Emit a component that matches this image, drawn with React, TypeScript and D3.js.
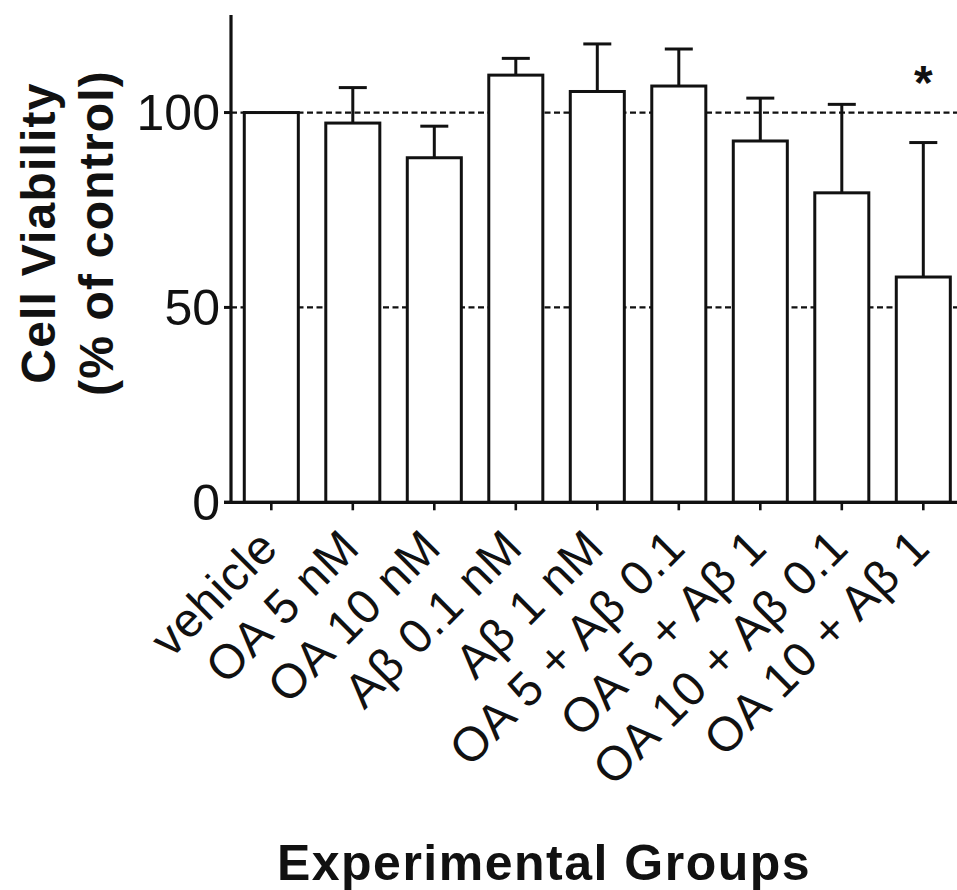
import React from "react";
import * as d3 from "d3";

const categories = [
  "vehicle",
  "OA 5 nM",
  "OA 10 nM",
  "Aβ 0.1 nM",
  "Aβ 1 nM",
  "OA 5 + Aβ 0.1",
  "OA 5 + Aβ 1",
  "OA 10 + Aβ 0.1",
  "OA 10 + Aβ 1",
];
const means = [100, 97.3, 88.4, 109.6, 105.4, 106.8, 92.7, 79.4, 57.8];
const sems = [0, 9.1, 8.1, 4.3, 12.2, 9.5, 11.0, 22.7, 34.5];
const significant = [false, false, false, false, false, false, false, false, true];
const yTicks = [0, 50, 100];
const gridValues = [50, 100];
const yTitleLines = ["Cell Viability", "(% of control)"];
const xTitle = "Experimental Groups";

const W = 957;
const H = 890;
const FONT = "'Liberation Sans', Arial, Helvetica, sans-serif";

export default function App() {
  const x0 = 231;
  const yBase = 502.3;
  const yTop = 15.1;
  const x = d3
    .scaleBand<string>()
    .domain(categories)
    .range([x0, 963.6])
    .paddingInner(0.337)
    .paddingOuter(0.163);
  const y = d3.scaleLinear().domain([0, 125]).range([yBase, yTop]);
  const bw = x.bandwidth();
  const capW = 28;

  return (
    <svg
      width={W}
      height={H}
      viewBox={`0 0 ${W} ${H}`}
      style={{ position: "absolute", left: 0, top: 0, background: "#fff" }}
    >
      <rect x={0} y={0} width={W} height={H} fill="#fff" />
      {/* dashed reference lines */}
      {gridValues.map((g) => (
        <line
          key={"g" + g}
          x1={x0}
          x2={W}
          y1={y(g)}
          y2={y(g)}
          stroke="#111"
          strokeWidth={2.3}
          strokeDasharray="6,3.5"
        />
      ))}
      {/* error bars */}
      {categories.map((c, i) => {
        if (sems[i] <= 0) return null;
        const cx = (x(c) as number) + bw / 2;
        const top = y(means[i] + sems[i]);
        return (
          <g key={"e" + i} stroke="#111" strokeWidth={3}>
            <line x1={cx} x2={cx} y1={y(means[i])} y2={top} />
            <line x1={cx - capW / 2} x2={cx + capW / 2} y1={top} y2={top} />
          </g>
        );
      })}
      {/* bars */}
      {categories.map((c, i) => (
        <rect
          key={"b" + i}
          x={x(c)}
          y={y(means[i])}
          width={bw}
          height={yBase - y(means[i])}
          fill="#fff"
          stroke="#111"
          strokeWidth={3}
        />
      ))}
      {/* significance */}
      {categories.map((c, i) =>
        significant[i] ? (
          <text
            key={"s" + i}
            x={(x(c) as number) + bw / 2}
            y={y(means[i] + sems[i]) - 44}
            textAnchor="middle"
            fontFamily={FONT}
            fontWeight="bold"
            fontSize={48}
            fill="#111"
          >
            *
          </text>
        ) : null
      )}
      {/* y axis */}
      <line x1={x0} x2={x0} y1={yTop} y2={yBase} stroke="#111" strokeWidth={3.2} />
      {yTicks.map((t) => (
        <g key={"yt" + t}>
          <line x1={x0 - 7} x2={x0} y1={y(t)} y2={y(t)} stroke="#111" strokeWidth={3} />
          <text
            x={220}
            y={y(t)}
            dy={17.5}
            textAnchor="end"
            fontFamily={FONT}
            fontSize={50}
            fill="#111"
          >
            {t}
          </text>
        </g>
      ))}
      {/* x axis */}
      <line x1={x0 - 7} x2={W} y1={yBase} y2={yBase} stroke="#111" strokeWidth={3.2} />
      {categories.map((c, i) => {
        const cx = (x(c) as number) + bw / 2;
        return (
          <g key={"xt" + i}>
            <line x1={cx} x2={cx} y1={yBase} y2={yBase + 8} stroke="#111" strokeWidth={2.6} />
            <text
              transform={`translate(${cx + 9},550) rotate(-45)`}
              textAnchor="end"
              fontFamily={FONT}
              fontSize={48}
              letterSpacing={0.8}
              fill="#111"
            >
              {c}
            </text>
          </g>
        );
      })}
      {/* axis titles */}
      {yTitleLines.map((t, i) => (
        <text
          key={"yl" + i}
          transform={`translate(${55 + i * 58},233) rotate(-90)`}
          textAnchor="middle"
          fontFamily={FONT}
          fontWeight="bold"
          fontSize={48}
          letterSpacing={1.2}
          fill="#111"
        >
          {t}
        </text>
      ))}
      <text
        x={544}
        y={880}
        textAnchor="middle"
        fontFamily={FONT}
        fontWeight="bold"
        fontSize={50}
        letterSpacing={1.5}
        fill="#111"
      >
        {xTitle}
      </text>
    </svg>
  );
}
